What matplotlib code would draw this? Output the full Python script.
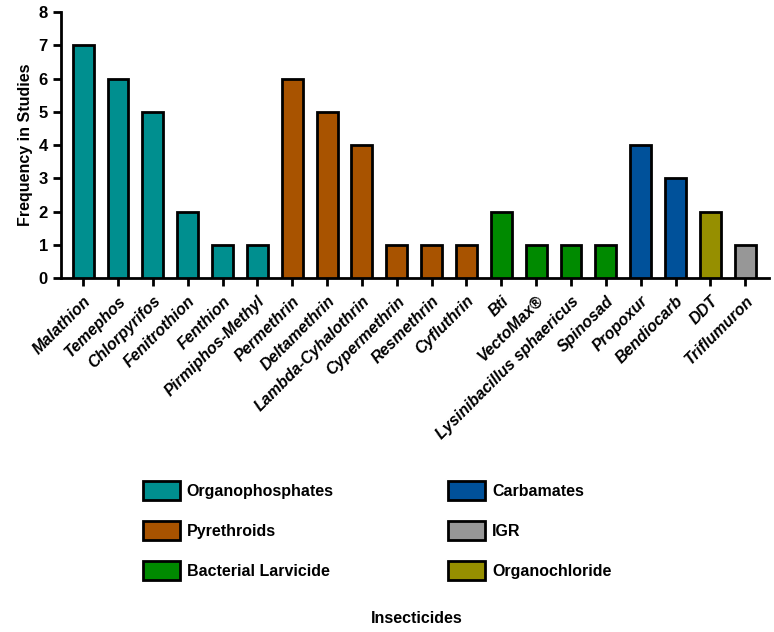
import matplotlib.pyplot as plt
from matplotlib.patches import Patch

plt.rcParams['font.family'] = ['Liberation Sans', 'DejaVu Sans']

# insecticidas, frecuencia y su grupo
insecticidas = ["Malathion", "Temephos", "Chlorpyrifos", "Fenitrothion", "Fenthion",
                "Pirmiphos-Methyl", "Permethrin", "Deltamethrin", "Lambda-Cyhalothrin",
                "Cypermethrin", "Resmethrin", "Cyfluthrin", "Bti", "VectoMax®",
                "Lysinibacillus sphaericus", "Spinosad", "Propoxur", "Bendiocarb",
                "DDT", "Triflumuron"]
frecuencia = [7, 6, 5, 2, 1, 1, 6, 5, 4, 1, 1, 1, 2, 1, 1, 1, 4, 3, 2, 1]
grupo = ["Organophosphates"] * 6 + ["Pyrethroids"] * 6 + ["Bacterial Larvicide"] * 4 + \
        ["Carbamates"] * 2 + ["Organochloride"] + ["IGR"]

grupos = ["Organophosphates", "Pyrethroids", "Bacterial Larvicide",
          "Carbamates", "IGR", "Organochloride"]
colores = {"Organophosphates": "#008f8f", "Pyrethroids": "#a85300",
           "Bacterial Larvicide": "#008a00", "Carbamates": "#00519a",
           "IGR": "#979797", "Organochloride": "#968f00"}

fig = plt.figure(figsize=(7.74, 6.32), dpi=100)
ax = fig.add_axes([0.079, 0.56, 0.915, 0.421])

x = list(range(len(insecticidas)))
ax.bar(x, frecuencia, width=0.6, color=[colores[g] for g in grupo],
       edgecolor="black", linewidth=2, zorder=3)

ax.set_xlim(-0.63, 19.69)
ax.set_ylim(0, 8)
ax.set_yticks(range(9))
ax.set_xticks(x)
ax.set_xticklabels(insecticidas, rotation=45, ha="right", rotation_mode="anchor",
                   fontsize=11.5, fontweight="bold", style="italic")
for lbl in ax.get_yticklabels():
    lbl.set_fontweight("bold")
    lbl.set_fontsize(12)
ax.tick_params(axis="both", width=2, length=6, direction="out")
ax.tick_params(axis="x", pad=5)
ax.spines["top"].set_visible(False)
ax.spines["right"].set_visible(False)
ax.spines["left"].set_linewidth(2)
ax.spines["bottom"].set_linewidth(2)
ax.set_ylabel("Frequency in Studies", fontsize=11.5, fontweight="bold")

handles = [Patch(facecolor=colores[g], edgecolor="black", linewidth=2, label=g) for g in grupos]
fig.legend(handles=handles, ncol=2, loc="upper left", bbox_to_anchor=(0.166, 0.261),
           frameon=False, handlelength=2.3, handleheight=1.4, labelspacing=1.35,
           columnspacing=7.15, handletextpad=0.45,
           prop={"weight": "bold", "size": 11.5})

fig.text(0.538, 0.014, "Insecticides", ha="center", fontsize=11.5, fontweight="bold")

fig.savefig("out.png", dpi=100)
